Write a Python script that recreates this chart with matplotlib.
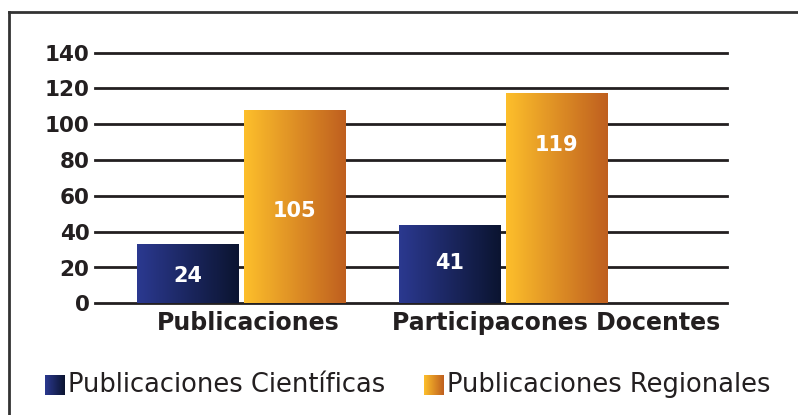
import numpy as np
import matplotlib
matplotlib.use("Agg")
import matplotlib.pyplot as plt
from matplotlib.colors import LinearSegmentedColormap
from matplotlib.lines import Line2D

# datos
categorias = ["Publicaciones", "Participacones Docentes"]
series = ["Publicaciones Científicas", "Publicaciones Regionales"]
# altura de las barras tal como aparecen dibujadas
cientificas = [33, 44]
regionales = [108, 117.5]
# números escritos sobre las barras
etiquetas_cientificas = ["24", "41"]
etiquetas_regionales = ["105", "119"]
yticks = [0, 20, 40, 60, 80, 100, 120, 140]

# posición vertical de los números (en unidades del eje)
pos_cientificas = [15, 22.5]
pos_regionales = [51.5, 88.5]

azul = LinearSegmentedColormap.from_list("azul", ["#2b3990", "#0b1430"])
naranja = LinearSegmentedColormap.from_list("naranja", ["#fdbf2b", "#bf5f1f"])
grad = np.linspace(0, 1, 256).reshape(1, -1)

plt.rcParams['font.family'] = ['DejaVu Sans']

fig = plt.figure(figsize=(7.98, 4.15), dpi=100)
ax = fig.add_axes([95 / 798, 111.7 / 415, 632 / 798, 250.6 / 415])

x = np.arange(len(categorias))
ancho = 0.389
sep = 0.0095

for yv in yticks:
    ax.axhline(yv, color="#231f20", lw=2.0, zorder=1, clip_on=False)

b1 = ax.bar(x - ancho / 2 - sep, cientificas, ancho, color="none", zorder=2)
b2 = ax.bar(x + ancho / 2 + sep, regionales, ancho, color="none", zorder=2)

def pintar(barras, cmap):
    for b in barras:
        x0, y0 = b.get_x(), b.get_y()
        w, h = b.get_width(), b.get_height()
        im = ax.imshow(grad, cmap=cmap, aspect="auto", extent=[x0, x0 + w, y0, y0 + h], zorder=3)
        im.set_clip_path(b)

pintar(b1, azul)
pintar(b2, naranja)

for b, t, py in zip(b1, etiquetas_cientificas, pos_cientificas):
    ax.text(b.get_x() + b.get_width() / 2, py, t, ha="center", va="center",
            color="white", fontsize=15, fontweight="bold", zorder=4)
for b, t, py in zip(b2, etiquetas_regionales, pos_regionales):
    ax.text(b.get_x() + b.get_width() / 2, py, t, ha="center", va="center",
            color="white", fontsize=15, fontweight="bold", zorder=4)

ax.set_xlim(-0.559, 1.853)
ax.set_ylim(0, 140)
ax.set_yticks(yticks)
ax.set_yticklabels([str(v) for v in yticks], fontsize=15.5, fontweight="bold", color="#231f20")
ax.tick_params(axis="y", length=0, pad=4)
ax.set_xticks([])
for s in ax.spines.values():
    s.set_visible(False)

# nombres de categorías
desplaz = [0.025, 0.2]
for xi, c, d in zip(x, categorias, desplaz):
    ax.text(xi + d, -4.5, c, ha="center", va="top", fontsize=17, fontweight="bold", color="#231f20")

# leyenda
ley_y = 1 - 385 / 415
for cmap, x0, nombre, xt in [(azul, 45, series[0], 68), (naranja, 424, series[1], 447)]:
    sw = fig.add_axes([x0 / 798, ley_y - 10.5 / 415, 20 / 798, 21 / 415])
    sw.imshow(grad, cmap=cmap, aspect="auto")
    sw.axis("off")
    fig.text(xt / 798, ley_y, nombre, ha="left", va="center", fontsize=18.5, color="#231f20")

# marco
fig.add_artist(Line2D([9 / 798, 9 / 798], [0, 1 - 12 / 415], transform=fig.transFigure,
                      color="#333333", lw=2))
fig.add_artist(Line2D([9 / 798, 1], [1 - 12 / 415, 1 - 12 / 415], transform=fig.transFigure,
                      color="#333333", lw=2))

fig.savefig("out.png", dpi=100)
